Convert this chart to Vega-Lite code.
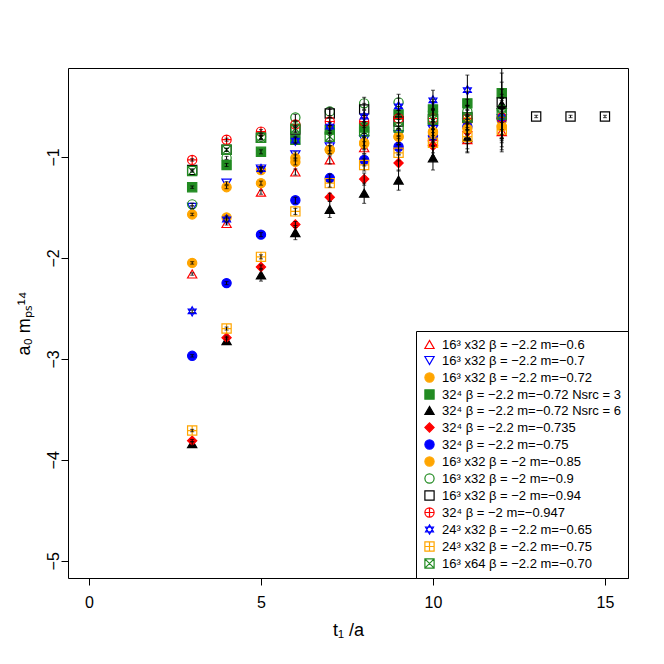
{
  "$schema": "https://vega.github.io/schema/vega-lite/v6.json",
  "autosize": "none",
  "width": 560,
  "height": 510,
  "padding": {"left": 68, "top": 68, "right": 36, "bottom": 86},
  "background": "white",
  "config": {
    "view": {"stroke": "black", "strokeWidth": 1},
    "font": "Liberation Sans",
    "axis": {"domain": false, "grid": false, "tickColor": "black", "tickSize": 7, "labelColor": "black", "labelFont": "Liberation Sans", "labelFontSize": 16, "titleFont": "Liberation Sans", "titleFontSize": 18, "titleFontWeight": "normal", "titleColor": "black"}
  },
  "datasets": {
    "labels": [
      {"k": 1, "s": "16³ x32 β = −2.2 m=−0.6"},
      {"k": 2, "s": "16³ x32 β = −2.2 m=−0.7"},
      {"k": 3, "s": "16³ x32 β = −2.2 m=−0.72"},
      {"k": 4, "s": "32⁴ β = −2.2 m=−0.72 Nsrc = 3"},
      {"k": 5, "s": "32⁴ β = −2.2 m=−0.72 Nsrc = 6"},
      {"k": 6, "s": "32⁴ β = −2.2 m=−0.735"},
      {"k": 7, "s": "32⁴ β = −2.2 m=−0.75"},
      {"k": 8, "s": "16³ x32 β = −2 m=−0.85"},
      {"k": 9, "s": "16³ x32 β = −2 m=−0.9"},
      {"k": 10, "s": "16³ x32 β = −2 m=−0.94"},
      {"k": 11, "s": "32⁴ β = −2 m=−0.947"},
      {"k": 12, "s": "24³ x32 β = −2.2 m=−0.65"},
      {"k": 13, "s": "24³ x32 β = −2.2 m=−0.75"},
      {"k": 14, "s": "16³ x64 β = −2.2 m=−0.70"}
    ],
    "pts": [
      {"k":1,"t":3,"y":-2.16,"e":0.012},{"k":1,"t":4,"y":-1.66,"e":0.015},{"k":1,"t":5,"y":-1.35,"e":0.02},{"k":1,"t":6,"y":-1.15,"e":0.03},{"k":1,"t":7,"y":-1.03,"e":0.04},{"k":1,"t":8,"y":-0.91,"e":0.06},{"k":1,"t":9,"y":-0.88,"e":0.08},{"k":1,"t":10,"y":-0.8,"e":0.1},{"k":1,"t":11,"y":-0.83,"e":0.12},{"k":1,"t":12,"y":-0.75,"e":0.2},
      {"k":2,"t":3,"y":-1.5,"e":0.012},{"k":2,"t":4,"y":-1.26,"e":0.015},{"k":2,"t":5,"y":-1.12,"e":0.02},{"k":2,"t":6,"y":-0.98,"e":0.03},{"k":2,"t":7,"y":-0.9,"e":0.04},{"k":2,"t":8,"y":-0.83,"e":0.06},{"k":2,"t":9,"y":-0.78,"e":0.08},{"k":2,"t":10,"y":-0.73,"e":0.1},{"k":2,"t":11,"y":-0.66,"e":0.12},{"k":2,"t":12,"y":-0.62,"e":0.2},
      {"k":3,"t":3,"y":-1.57,"e":0.012},{"k":3,"t":4,"y":-1.3,"e":0.015},{"k":3,"t":5,"y":-1.13,"e":0.02},{"k":3,"t":6,"y":-1.01,"e":0.03},{"k":3,"t":7,"y":-0.93,"e":0.04},{"k":3,"t":8,"y":-0.86,"e":0.06},{"k":3,"t":9,"y":-0.8,"e":0.08},{"k":3,"t":10,"y":-0.75,"e":0.1},{"k":3,"t":11,"y":-0.65,"e":0.12},{"k":3,"t":12,"y":-0.64,"e":0.2},
      {"k":4,"t":3,"y":-1.3,"e":0.012},{"k":4,"t":4,"y":-1.08,"e":0.015},{"k":4,"t":5,"y":-0.95,"e":0.02},{"k":4,"t":6,"y":-0.83,"e":0.03},{"k":4,"t":7,"y":-0.73,"e":0.04},{"k":4,"t":8,"y":-0.71,"e":0.06},{"k":4,"t":9,"y":-0.58,"e":0.08},{"k":4,"t":10,"y":-0.53,"e":0.1},{"k":4,"t":11,"y":-0.47,"e":0.12},{"k":4,"t":12,"y":-0.37,"e":0.2},
      {"k":5,"t":3,"y":-3.84,"e":0.02},{"k":5,"t":4,"y":-2.82,"e":0.03},{"k":5,"t":5,"y":-2.17,"e":0.06},{"k":5,"t":6,"y":-1.75,"e":0.07},{"k":5,"t":7,"y":-1.52,"e":0.08},{"k":5,"t":8,"y":-1.36,"e":0.1},{"k":5,"t":9,"y":-1.23,"e":0.1},{"k":5,"t":10,"y":-1.01,"e":0.12},{"k":5,"t":11,"y":-0.81,"e":0.15},{"k":5,"t":12,"y":-0.48,"e":0.38},
      {"k":6,"t":3,"y":-3.81,"e":0.012},{"k":6,"t":4,"y":-2.79,"e":0.015},{"k":6,"t":5,"y":-2.09,"e":0.02},{"k":6,"t":6,"y":-1.67,"e":0.03},{"k":6,"t":7,"y":-1.4,"e":0.04},{"k":6,"t":8,"y":-1.22,"e":0.06},{"k":6,"t":9,"y":-1.06,"e":0.08},{"k":6,"t":10,"y":-0.89,"e":0.1},{"k":6,"t":11,"y":-0.75,"e":0.12},{"k":6,"t":12,"y":-0.62,"e":0.2},
      {"k":7,"t":3,"y":-2.97,"e":0.012},{"k":7,"t":4,"y":-2.25,"e":0.015},{"k":7,"t":5,"y":-1.77,"e":0.02},{"k":7,"t":6,"y":-1.43,"e":0.03},{"k":7,"t":7,"y":-1.21,"e":0.04},{"k":7,"t":8,"y":-1.03,"e":0.06},{"k":7,"t":9,"y":-0.9,"e":0.08},{"k":7,"t":10,"y":-0.79,"e":0.1},{"k":7,"t":11,"y":-0.7,"e":0.12},{"k":7,"t":12,"y":-0.62,"e":0.2},
      {"k":8,"t":3,"y":-2.05,"e":0.012},{"k":8,"t":4,"y":-1.6,"e":0.015},{"k":8,"t":5,"y":-1.26,"e":0.02},{"k":8,"t":6,"y":-1.05,"e":0.03},{"k":8,"t":7,"y":-0.93,"e":0.04},{"k":8,"t":8,"y":-0.87,"e":0.06},{"k":8,"t":9,"y":-0.8,"e":0.08},{"k":8,"t":10,"y":-0.76,"e":0.1},{"k":8,"t":11,"y":-0.72,"e":0.12},{"k":8,"t":12,"y":-0.7,"e":0.2},
      {"k":9,"t":3,"y":-1.47,"e":0.012},{"k":9,"t":4,"y":-1.01,"e":0.015},{"k":9,"t":5,"y":-0.8,"e":0.02},{"k":9,"t":6,"y":-0.61,"e":0.03},{"k":9,"t":7,"y":-0.55,"e":0.04},{"k":9,"t":8,"y":-0.47,"e":0.06},{"k":9,"t":9,"y":-0.46,"e":0.08},{"k":9,"t":10,"y":-0.55,"e":0.1},{"k":9,"t":11,"y":-0.55,"e":0.12},{"k":9,"t":12,"y":-0.53,"e":0.2},
      {"k":10,"t":3,"y":-1.13,"e":0.012},{"k":10,"t":4,"y":-0.93,"e":0.015},{"k":10,"t":5,"y":-0.81,"e":0.02},{"k":10,"t":6,"y":-0.73,"e":0.03},{"k":10,"t":7,"y":-0.57,"e":0.04},{"k":10,"t":8,"y":-0.53,"e":0.06},{"k":10,"t":9,"y":-0.65,"e":0.08},{"k":10,"t":10,"y":-0.63,"e":0.1},{"k":10,"t":11,"y":-0.61,"e":0.12},{"k":10,"t":12,"y":-0.46,"e":0.2},{"k":10,"t":13,"y":-0.6,"e":0.012},{"k":10,"t":14,"y":-0.6,"e":0.012},{"k":10,"t":15,"y":-0.6,"e":0.012},
      {"k":11,"t":3,"y":-1.03,"e":0.012},{"k":11,"t":4,"y":-0.83,"e":0.015},{"k":11,"t":5,"y":-0.75,"e":0.02},{"k":11,"t":6,"y":-0.68,"e":0.03},{"k":11,"t":7,"y":-0.65,"e":0.04},{"k":11,"t":8,"y":-0.65,"e":0.06},{"k":11,"t":9,"y":-0.62,"e":0.08},{"k":11,"t":10,"y":-0.62,"e":0.1},{"k":11,"t":11,"y":-0.62,"e":0.12},{"k":11,"t":12,"y":-0.61,"e":0.2},
      {"k":12,"t":3,"y":-2.53,"e":0.012},{"k":12,"t":4,"y":-1.62,"e":0.015},{"k":12,"t":5,"y":-1.12,"e":0.02},{"k":12,"t":6,"y":-0.84,"e":0.03},{"k":12,"t":7,"y":-0.7,"e":0.04},{"k":12,"t":8,"y":-0.6,"e":0.06},{"k":12,"t":9,"y":-0.5,"e":0.08},{"k":12,"t":10,"y":-0.44,"e":0.1},{"k":12,"t":11,"y":-0.34,"e":0.15},
      {"k":13,"t":3,"y":-3.71,"e":0.012},{"k":13,"t":4,"y":-2.7,"e":0.015},{"k":13,"t":5,"y":-1.99,"e":0.02},{"k":13,"t":6,"y":-1.54,"e":0.03},{"k":13,"t":7,"y":-1.26,"e":0.04},{"k":13,"t":8,"y":-1.08,"e":0.06},{"k":13,"t":9,"y":-0.96,"e":0.08},{"k":13,"t":10,"y":-0.86,"e":0.1},{"k":13,"t":11,"y":-0.8,"e":0.12},{"k":13,"t":12,"y":-0.73,"e":0.2},
      {"k":14,"t":3,"y":-1.14,"e":0.012},{"k":14,"t":4,"y":-0.93,"e":0.015},{"k":14,"t":5,"y":-0.81,"e":0.02},{"k":14,"t":6,"y":-0.72,"e":0.03},{"k":14,"t":7,"y":-0.8,"e":0.04},{"k":14,"t":8,"y":-0.75,"e":0.06},{"k":14,"t":9,"y":-0.71,"e":0.08},{"k":14,"t":10,"y":-0.63,"e":0.1},{"k":14,"t":11,"y":-0.61,"e":0.12},{"k":14,"t":12,"y":-0.58,"e":0.2}
    ]
  },
  "data": {"name": "pts"},
  "transform": [
    {"lookup": "k", "from": {"data": {"name": "labels"}, "key": "k", "fields": ["s"]}}
  ],
  "encoding": {
    "x": {"field": "t", "type": "quantitative", "scale": {"domain": [-0.61, 15.67], "nice": false, "zero": false},
      "axis": {"values": [0, 5, 10, 15], "labelPadding": 9, "title": "t₁ /a", "titlePadding": 11}},
    "y": {"field": "y", "type": "quantitative", "scale": {"domain": [-5.17, -0.12], "nice": false, "zero": false},
      "axis": {"values": [-1, -2, -3, -4, -5], "labelAngle": -90, "labelAlign": "center", "labelBaseline": "bottom", "labelPadding": 0, "title": "a₀ mₚₛ¹⁴", "titlePadding": 12}}
  },
  "layer": [
    {
      "mark": {"type": "point", "strokeWidth": 1.2, "opacity": 1, "clip": true},
      "encoding": {
        "shape": {"field": "s", "type": "nominal",
          "scale": {"domain": ["16³ x32 β = −2.2 m=−0.6","16³ x32 β = −2.2 m=−0.7","16³ x32 β = −2.2 m=−0.72","32⁴ β = −2.2 m=−0.72 Nsrc = 3","32⁴ β = −2.2 m=−0.72 Nsrc = 6","32⁴ β = −2.2 m=−0.735","32⁴ β = −2.2 m=−0.75","16³ x32 β = −2 m=−0.85","16³ x32 β = −2 m=−0.9","16³ x32 β = −2 m=−0.94","32⁴ β = −2 m=−0.947","24³ x32 β = −2.2 m=−0.65","24³ x32 β = −2.2 m=−0.75","16³ x64 β = −2.2 m=−0.70"],
            "range": ["triangle-up","triangle-down","circle","square","triangle-up","diamond","circle","circle","circle","square",
              "M-1,0A1,1 0 1,0 1,0A1,1 0 1,0 -1,0ZM-1,0L1,0M0,-1L0,1",
              "M0,-1L0.866,0.5L-0.866,0.5ZM0,1L0.866,-0.5L-0.866,-0.5Z",
              "M-1,-1L1,-1L1,1L-1,1ZM-1,0L1,0M0,-1L0,1",
              "M-1,-1L1,-1L1,1L-1,1ZM-1,-1L1,1M-1,1L1,-1"]},
          "legend": {"title": null, "orient": "bottom-right", "offset": 0, "strokeColor": "black", "fillColor": "white", "padding": 7, "labelFont": "Liberation Sans", "labelFontSize": 13, "labelColor": "black", "rowPadding": 2, "labelOffset": 6, "symbolStrokeWidth": 1.2, "labelLimit": 300}},
        "stroke": {"field": "s", "type": "nominal",
          "scale": {"domain": ["16³ x32 β = −2.2 m=−0.6","16³ x32 β = −2.2 m=−0.7","16³ x32 β = −2.2 m=−0.72","32⁴ β = −2.2 m=−0.72 Nsrc = 3","32⁴ β = −2.2 m=−0.72 Nsrc = 6","32⁴ β = −2.2 m=−0.735","32⁴ β = −2.2 m=−0.75","16³ x32 β = −2 m=−0.85","16³ x32 β = −2 m=−0.9","16³ x32 β = −2 m=−0.94","32⁴ β = −2 m=−0.947","24³ x32 β = −2.2 m=−0.65","24³ x32 β = −2.2 m=−0.75","16³ x64 β = −2.2 m=−0.70"],
            "range": ["#FF0000","#0000FF","#FFA500","#228B22","#000000","#FF0000","#0000FF","#FFA500","#228B22","#000000","#FF0000","#0000FF","#FFA500","#228B22"]},
          "legend": {"title": null}},
        "fill": {"field": "s", "type": "nominal",
          "scale": {"domain": ["16³ x32 β = −2.2 m=−0.6","16³ x32 β = −2.2 m=−0.7","16³ x32 β = −2.2 m=−0.72","32⁴ β = −2.2 m=−0.72 Nsrc = 3","32⁴ β = −2.2 m=−0.72 Nsrc = 6","32⁴ β = −2.2 m=−0.735","32⁴ β = −2.2 m=−0.75","16³ x32 β = −2 m=−0.85","16³ x32 β = −2 m=−0.9","16³ x32 β = −2 m=−0.94","32⁴ β = −2 m=−0.947","24³ x32 β = −2.2 m=−0.65","24³ x32 β = −2.2 m=−0.75","16³ x64 β = −2.2 m=−0.70"],
            "range": ["transparent","transparent","#FFA500","#228B22","#000000","#FF0000","#0000FF","#FFA500","transparent","transparent","transparent","transparent","transparent","transparent"]},
          "legend": {"title": null}},
        "size": {"field": "s", "type": "nominal",
          "scale": {"domain": ["16³ x32 β = −2.2 m=−0.6","16³ x32 β = −2.2 m=−0.7","16³ x32 β = −2.2 m=−0.72","32⁴ β = −2.2 m=−0.72 Nsrc = 3","32⁴ β = −2.2 m=−0.72 Nsrc = 6","32⁴ β = −2.2 m=−0.735","32⁴ β = −2.2 m=−0.75","16³ x32 β = −2 m=−0.85","16³ x32 β = −2 m=−0.9","16³ x32 β = −2 m=−0.94","32⁴ β = −2 m=−0.947","24³ x32 β = −2.2 m=−0.65","24³ x32 β = −2.2 m=−0.75","16³ x64 β = −2.2 m=−0.70"],
            "range": [85, 85, 55, 60, 85, 32, 80, 28, 60, 60, 60, 95, 64, 64]},
          "legend": {"title": null}}
      }
    },
    {
      "mark": {"type": "errorbar", "ticks": {"size": 4, "color": "black"}, "color": "black", "thickness": 1, "clip": true},
      "encoding": {
        "yError": {"field": "e"}
      }
    }
  ]
}
